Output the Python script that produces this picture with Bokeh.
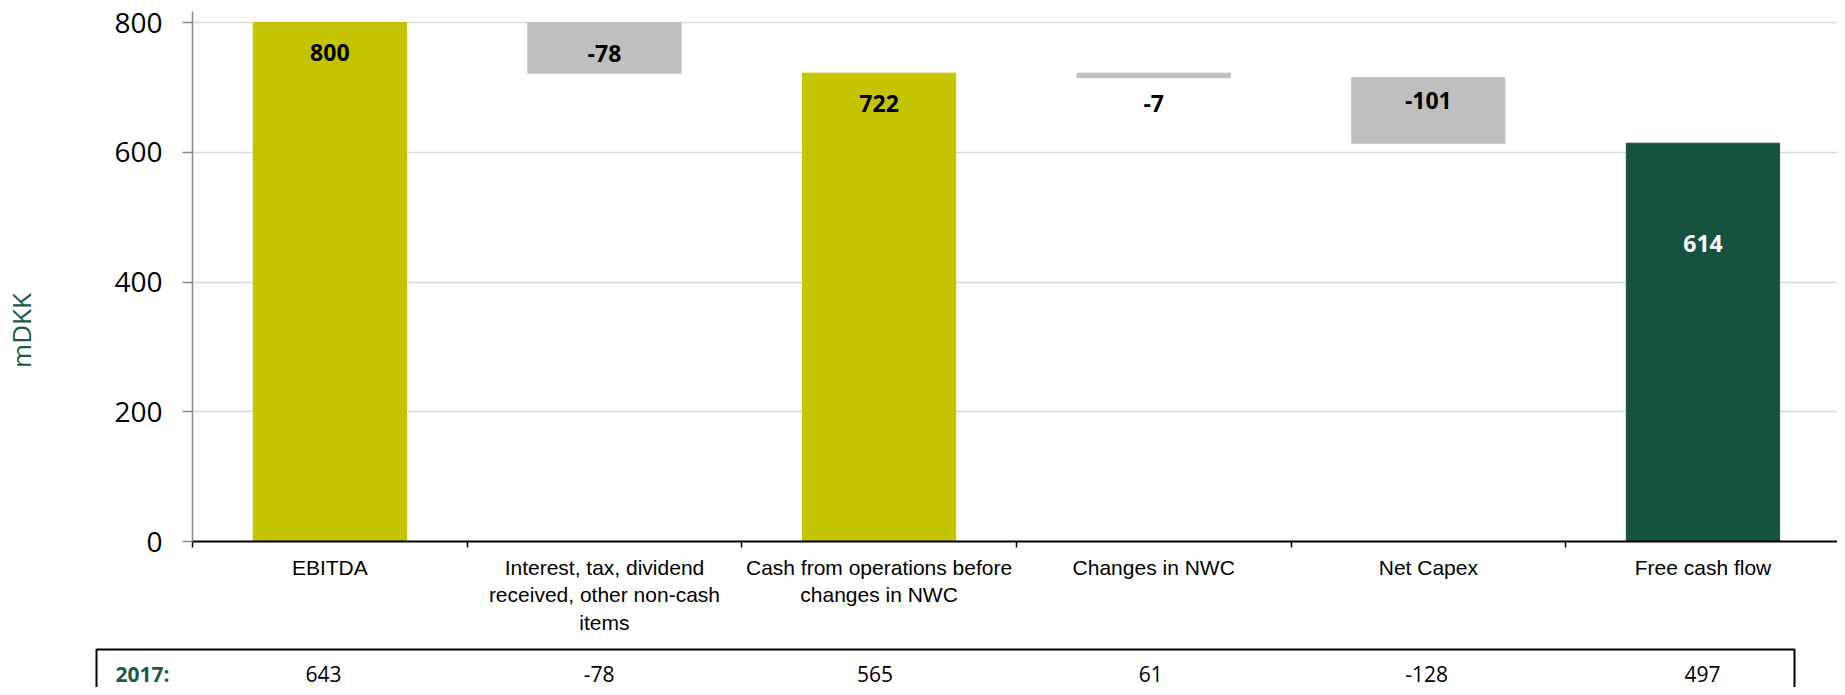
from bokeh.plotting import figure
from bokeh.models import Range1d, FixedTicker, ColumnDataSource
from bokeh.core.properties import value
from bokeh.embed import file_html
from bokeh.resources import INLINE
import numpy as np

# ---- data ----
categories = ["EBITDA", "Interest, tax, dividend received, other non-cash items",
              "Cash from operations before changes in NWC", "Changes in NWC",
              "Net Capex", "Free cash flow"]
category_labels = ["EBITDA", "Interest, tax, dividend\nreceived, other non-cash\nitems",
                   "Cash from operations before\nchanges in NWC", "Changes in NWC",
                   "Net Capex", "Free cash flow"]
values_2018 = [800, -78, 722, -7, -101, 614]
kinds = ["total", "delta", "total", "delta", "delta", "final"]
values_2017 = [643, -78, 565, 61, -128, 497]
table_label = "2017:"
y_ticks = [0, 200, 400, 600, 800]

# ---- styles / layout ----
COL_TOTAL = "#c4c400"
COL_DELTA = "#bfbfbf"
COL_FINAL = "#175240"
GREEN_TXT = "#1b5a45"
label_offsets = [46, 47, 46.5, 46.5, 35, 155]   # data units below bar top

W = 1837
FRAME_L = 185
CAT_W = 275.8
X_END = (W - FRAME_L) / CAT_W

# waterfall geometry
bottoms, tops, colors, txtcol = [], [], [], []
running = 0
for v, k in zip(values_2018, kinds):
    if k == "delta":
        b, t = running + v, running
        running += v
        colors.append(COL_DELTA); txtcol.append("black")
    else:
        b, t = 0, v
        running = v
        colors.append(COL_FINAL if k == "final" else COL_TOTAL)
        txtcol.append("white" if k == "final" else "black")
    bottoms.append(min(b, t)); tops.append(max(b, t))

xs = np.arange(len(categories)) + 0.5
src = ColumnDataSource(dict(x=xs, bottom=bottoms, top=tops, color=colors,
                            label=[str(v) for v in values_2018],
                            ly=[t - o for t, o in zip(tops, label_offsets)],
                            tc=txtcol))

p = figure(width=W, height=641, x_range=Range1d(0, X_END),
           y_range=Range1d(0, 817), output_backend="svg", toolbar_location=None,
           min_border_left=FRAME_L, min_border_right=0, min_border_top=11,
           min_border_bottom=100)
p.outline_line_color = None
p.xgrid.grid_line_color = None
p.ygrid.grid_line_color = "#d9d9d9"
p.ygrid.grid_line_width = 1.3

p.vbar(x="x", bottom="bottom", top="top", width=0.558, color="color",
       line_color="color", source=src)
p.text(x="x", y="ly", text="label", text_color="tc", text_align="center",
       text_baseline="middle", text_font=value("Open Sans"),
       text_font_style="bold", text_font_size="23px", source=src)

# y axis
ya = p.yaxis[0]
ya.ticker = FixedTicker(ticks=y_ticks, minor_ticks=[])
ya.axis_line_color = "#898989"
ya.axis_line_width = 1.5
ya.major_tick_line_color = "#898989"
ya.major_tick_line_width = 1.5
ya.major_tick_out = 10
ya.major_tick_in = 0
ya.minor_tick_line_color = None
ya.major_label_standoff = 20
ya.major_label_text_font = "Open Sans"
ya.major_label_text_font_size = "28px"
ya.major_label_text_color = "black"
ya.axis_label = "mDKK" + "\u00a0" * 16
ya.axis_label_text_font = "Open Sans"
ya.axis_label_text_font_style = "normal"
ya.axis_label_text_font_size = "26px"
ya.axis_label_text_color = GREEN_TXT
ya.axis_label_standoff = 72

# x axis
xa = p.xaxis[0]
xa.ticker = FixedTicker(ticks=list(xs), minor_ticks=list(range(len(categories) + 1)))
xa.major_label_overrides = {float(x): lab for x, lab in zip(xs, category_labels)}
xa.axis_line_color = "black"
xa.axis_line_width = 2
xa.major_tick_line_color = None
xa.major_tick_out = 0
xa.major_tick_in = 0
xa.minor_tick_line_color = "black"
xa.minor_tick_line_width = 1.5
xa.minor_tick_out = 6
xa.minor_tick_in = 0
xa.major_label_standoff = 8
xa.major_label_text_font = "Liberation Sans"
xa.major_label_text_font_size = "21px"
xa.major_label_text_color = "black"

# ---- table (separate root so its frame spans the full width) ----
H2 = 46
p2 = figure(width=W, height=H2, x_range=Range1d(-FRAME_L / CAT_W, X_END),
            y_range=Range1d(0, H2), output_backend="svg", toolbar_location=None,
            min_border_left=0, min_border_right=0, min_border_top=0, min_border_bottom=0)
p2.axis.visible = False
p2.grid.grid_line_color = None
p2.outline_line_color = None
box_l = (96 - FRAME_L) / CAT_W
box_r = (1794 - FRAME_L) / CAT_W
p2.quad(left=[box_l], right=[box_r], top=[H2 - 8], bottom=[-20], fill_color=None,
        line_color="black", line_width=2)
p2.text(x=list(xs), y=[H2 - 32] * len(xs), text=[str(v) for v in values_2017],
        text_align="center", text_baseline="middle", text_font=value("Open Sans"),
        text_font_size="21px", text_color="black")
p2.text(x=[(115 - FRAME_L) / CAT_W], y=[H2 - 32], text=[table_label], text_align="left",
        text_baseline="middle", text_font=value("Open Sans"), text_font_style="bold",
        text_font_size="21px", text_color=GREEN_TXT)

open("out.html", "w").write(file_html([p, p2], INLINE))
